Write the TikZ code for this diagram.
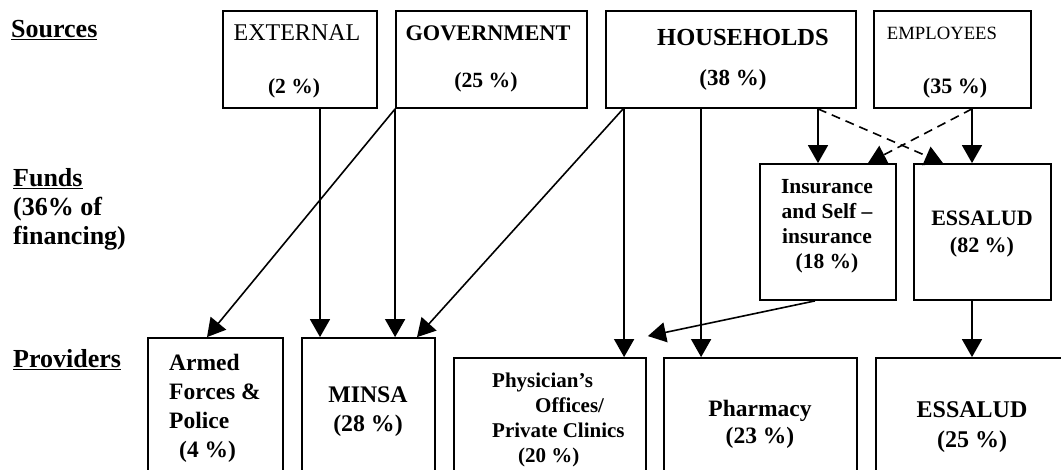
\documentclass[tikz,border=0pt]{standalone}
\usepackage{fontspec}
\setmainfont{Liberation Serif}
\usetikzlibrary{arrows.meta}
\begin{document}
\begin{tikzpicture}[x=1pt,y=-1pt,
  box/.style={draw=black,line width=1.8pt,inner sep=0pt},
  txt/.style={inner sep=0pt,text=black},
  conn/.style={draw=black,line width=1.6pt,-{Triangle[length=18pt,width=20pt]}},
  dconn/.style={conn,dash pattern=on 9pt off 6pt},
  lbl/.style={txt,anchor=west,font=\fontsize{26}{29}\selectfont\bfseries,align=left}
]
\useasboundingbox (0,0) rectangle (1061,470);
\clip (0,0) rectangle (1061,470);
% boxes
\node[box,minimum width=154pt,minimum height=97pt] (ext) at (300,59.5) {};
\node[box,minimum width=191pt,minimum height=97pt] (gov) at (491.5,59.5) {};
\node[box,minimum width=250pt,minimum height=97pt] (hh) at (731,59.5) {};
\node[box,minimum width=157pt,minimum height=97pt] (emp) at (952.5,59.5) {};
\node[box,minimum width=136pt,minimum height=136pt] (ins) at (828,232) {};
\node[box,minimum width=137pt,minimum height=136pt] (esf) at (982.5,232) {};
\node[box,minimum width=135pt,minimum height=152pt] (arm) at (215.5,414) {};
\node[box,minimum width=133pt,minimum height=152pt] (minsa) at (368.5,414) {};
\node[box,minimum width=192pt,minimum height=132pt] (phys) at (550,424) {};
\node[box,minimum width=193pt,minimum height=132pt] (phar) at (760.5,424) {};
\node[box,minimum width=192pt,minimum height=132pt] (esp) at (972,424) {};
% row labels
\node[lbl] (lsrc) at (11,30) {\underline{Sources}};
\node[lbl] (lfund) at (13,209) {\underline{Funds}\\(36\% of\\financing)};
\node[lbl] (lprov) at (13,360) {\underline{Providers}};
% source texts
\node[txt,font=\fontsize{24}{28}\selectfont] (t1) at (297,33) {EXTERNAL};
\node[txt,font=\fontsize{21.5}{25}\selectfont\bfseries] (t2) at (294,88) {(2 \%)};
\node[txt,font=\fontsize{22.3}{25}\selectfont\bfseries] (t3) at (488,33) {GOVERNMENT};
\node[txt,font=\fontsize{21.7}{25}\selectfont\bfseries] (t4) at (486,82) {(25 \%)};
\node[txt,font=\fontsize{24.5}{28}\selectfont\bfseries] (t5) at (743,38) {HOUSEHOLDS};
\node[txt,font=\fontsize{23}{26}\selectfont\bfseries] (t6) at (733,80) {(38 \%)};
\node[txt,font=\fontsize{18.7}{22}\selectfont] (t7) at (942,33) {EMPLOYEES};
\node[txt,font=\fontsize{22}{25}\selectfont\bfseries] (t8) at (955,88) {(35 \%)};
% fund texts
\node[txt,font=\fontsize{21.5}{25}\selectfont\bfseries,align=center] (t9) at (827,226) {Insurance\\and Self –\\insurance\\(18 \%)};
\node[txt,font=\fontsize{22}{27}\selectfont\bfseries,align=center] (t10) at (982,234) {ESSALUD\\(82 \%)};
% provider texts
\node[txt,font=\fontsize{23.5}{29}\selectfont\bfseries,align=left,anchor=west] (t11) at (169,408) {Armed\\Forces \&\\Police\\\hspace*{10pt}(4 \%)};
\node[txt,font=\fontsize{23.8}{29}\selectfont\bfseries,align=center] (t12) at (368,412) {MINSA\\(28 \%)};
\node[txt,font=\fontsize{21}{25}\selectfont\bfseries,align=left,anchor=west] (t13) at (492,420) {Physician’s\\\hspace*{43pt}Offices/\\Private Clinics\\\hspace*{26pt}(20 \%)};
\node[txt,font=\fontsize{23.5}{27}\selectfont\bfseries,align=center] (t14) at (760,424) {Pharmacy\\(23 \%)};
\node[txt,font=\fontsize{24}{30}\selectfont\bfseries,align=center] (t15) at (972,427) {ESSALUD\\(25 \%)};
% connectors
\draw[conn] ([xshift=20pt]ext.south) -- ([xshift=20pt]ext.south |- minsa.north);
\draw[conn] (gov.south west) -- ([xshift=-8.5pt]arm.north);
\draw[conn] (gov.south west) -- (gov.south west |- minsa.north);
\draw[conn] ([xshift=18pt]hh.south west) -- ([xshift=48.5pt]minsa.north);
\draw[conn] ([xshift=19pt]hh.south west) -- ([xshift=19pt]hh.south west |- phys.north);
\draw[conn] ([xshift=96pt]hh.south west) -- ([xshift=96pt]hh.south west |- phar.north);
\draw[conn] ([xshift=-10pt]ins.north |- hh.south) -- ([xshift=-10pt]ins.north);
\draw[conn] ([xshift=-10.5pt]esf.north |- emp.south) -- ([xshift=-10.5pt]esf.north);
\draw[dconn] ([xshift=-10pt]ins.north |- hh.south) -- ([xshift=-39.5pt]esf.north);
\draw[dconn] ([xshift=-10.5pt]esf.north |- emp.south) -- ([xshift=40pt]ins.north);
\draw[conn] ([xshift=-13pt]ins.south) -- ([xshift=1pt,yshift=21pt]phys.north east);
\draw[conn] (esp.north |- esf.south) -- (esp.north);
\end{tikzpicture}
\end{document}
